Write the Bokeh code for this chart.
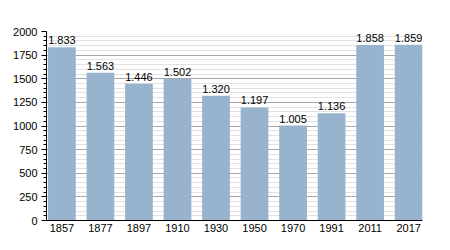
from bokeh.plotting import figure
from bokeh.models import SingleIntervalTicker, FixedTicker, Range1d, ColumnDataSource
from bokeh.core.properties import value
from bokeh.embed import file_html
from bokeh.resources import INLINE

years = ["1857", "1877", "1897", "1910", "1930", "1950", "1970", "1991", "2011", "2017"]
population = [1833, 1563, 1446, 1502, 1320, 1197, 1005, 1136, 1858, 1859]

xs = list(range(len(years)))
labels = [f"{v:,}".replace(",", ".") for v in population]
src = ColumnDataSource(dict(x=xs, top=population, label=labels))

p = figure(width=450, height=250, output_backend="svg", toolbar_location=None,
           x_range=Range1d(-0.40, 9.36), y_range=Range1d(0, 2000),
           min_border_left=46, min_border_right=28, min_border_top=31, min_border_bottom=30)
p.outline_line_color = None
p.background_fill_color = "white"
p.border_fill_color = "white"

p.vbar(x="x", top="top", width=0.72, bottom=0, source=src,
       fill_color="#98b3cd", line_color=None)
p.text(x="x", y="top", text="label", source=src, text_align="center",
       text_baseline="bottom", y_offset=-3, text_font=value("Liberation Sans"),
       text_font_size="11px", text_color="black")

p.xgrid.grid_line_color = None
p.ygrid.grid_line_color = "#a8a8a8"
p.ygrid.grid_line_width = 1
p.ygrid.minor_grid_line_color = "#e2e2e2"
p.ygrid.level = "underlay"

p.yaxis.ticker = SingleIntervalTicker(interval=250, num_minor_ticks=5)
p.yaxis.major_tick_out = 5
p.yaxis.major_tick_in = 0
p.yaxis.minor_tick_out = 3
p.yaxis.minor_tick_in = 0
p.yaxis.axis_line_color = "black"
p.yaxis.major_tick_line_color = "black"
p.yaxis.minor_tick_line_color = "black"
p.yaxis.major_label_standoff = 4

p.xaxis.ticker = FixedTicker(ticks=xs)
p.xaxis.major_label_overrides = {i: y for i, y in enumerate(years)}
p.xaxis.major_tick_line_color = None
p.xaxis.major_tick_out = 0
p.xaxis.major_tick_in = 0
p.xaxis.minor_tick_line_color = None
p.xaxis.minor_tick_out = 0
p.xaxis.axis_line_color = "black"
p.xaxis.major_label_standoff = 3

for ax in (p.xaxis, p.yaxis):
    ax.major_label_text_font = "Liberation Sans"
    ax.major_label_text_font_size = "11px"
    ax.major_label_text_color = "black"

open("out.html", "w").write(file_html(p, INLINE))
